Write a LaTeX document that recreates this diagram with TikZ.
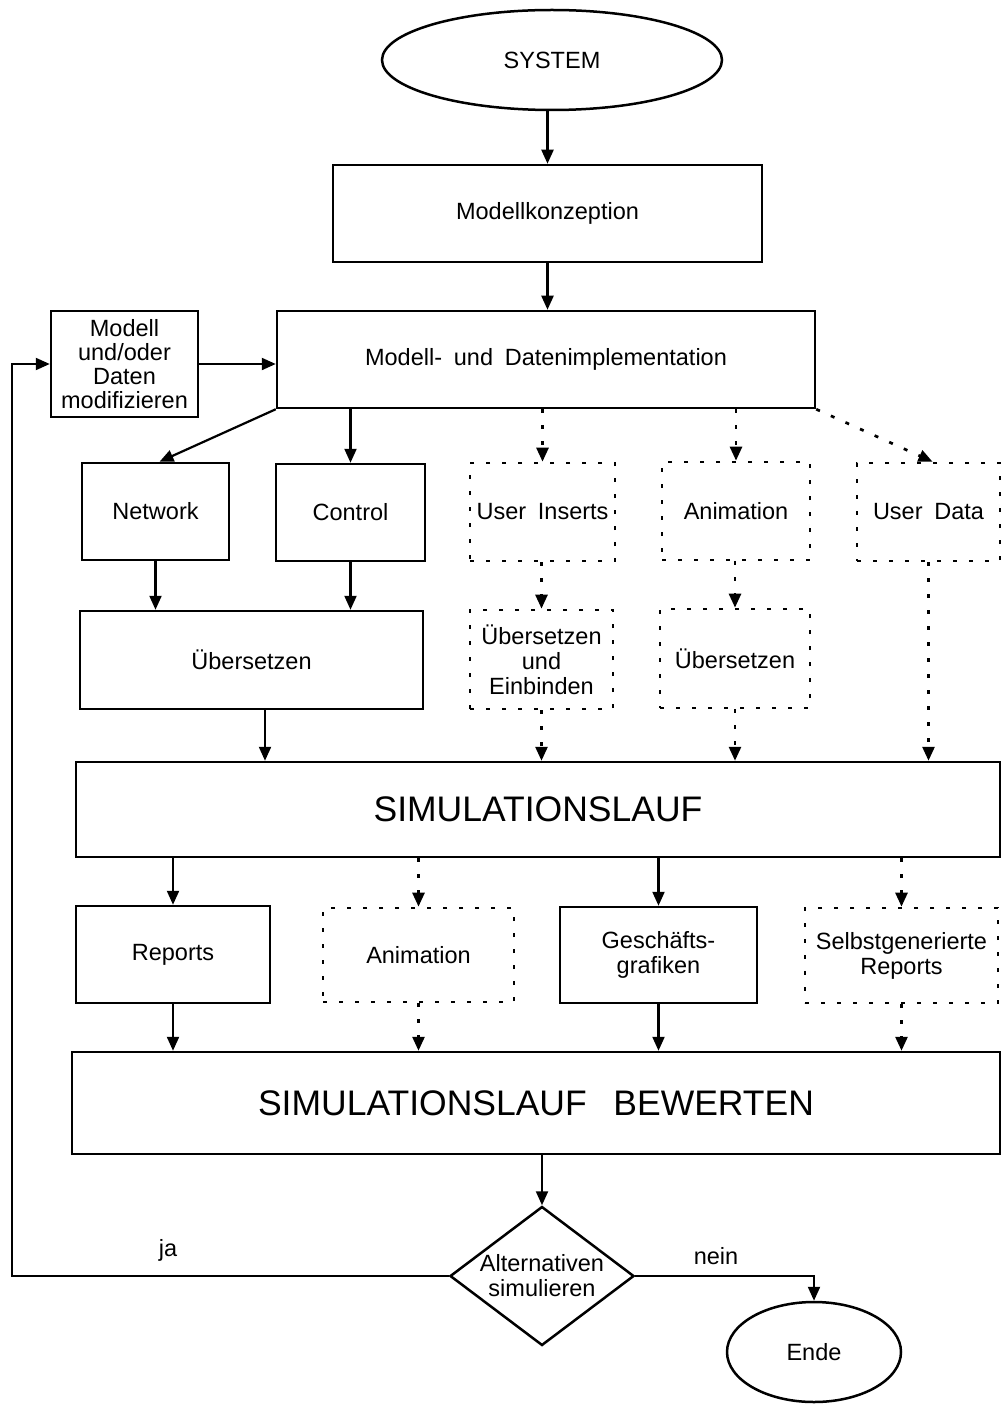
\documentclass[tikz,border=0pt]{standalone}
\usepackage{fontspec}
\setmainfont[WordSpace=1.8]{Liberation Sans}
\usetikzlibrary{shapes.geometric,arrows.meta}
\begin{document}
\begin{tikzpicture}[x=1pt,y=-1pt,
  every node/.style={font=\fontsize{23.5}{25}\selectfont, align=center, inner sep=0pt},
  big/.style={font=\fontsize{35.5}{40}\selectfont},
  box/.style={draw, line width=2.5pt},
  dbox/.style={draw, line width=2.7pt, dash pattern=on 4pt off 12pt},
  term/.style={draw, ellipse, line width=2.5pt},
  decision/.style={draw, diamond, line width=2.5pt, aspect=1.32,
                   minimum width=184pt, minimum height=139pt},
  arr/.style={line width=2.2pt, -{Triangle[length=14pt,width=12pt]}},
  darr/.style={line width=2.7pt, dash pattern=on 4pt off 12pt,
               -{Triangle[length=14pt,width=12pt]}}]
\useasboundingbox (0,0) rectangle (1002,1404);
\fill[white] (0,0) rectangle (1002,1404);

% start and model building
\node[term, minimum width=340pt, minimum height=100pt] (sys) at (552,60) {SYSTEM};
\node[box, minimum width=429pt, minimum height=97pt] (konz) at (547.5,213.5) {Modellkonzeption};
\node[box, minimum width=538pt, minimum height=97pt] (impl) at (546,359.5) {Modell- und Datenimplementation};
\node[box, minimum width=147pt, minimum height=106pt, font=\fontsize{23.5}{24}\selectfont] (modif) at (124.5,364)
  {Modell\\und/oder\\Daten\\modifizieren};

% model parts
\node[box, minimum width=147pt, minimum height=97pt] (net) at (155.5,511.5) {Network};
\node[box, minimum width=149pt, minimum height=97pt] (ctrl) at (350.5,512.5) {Control};
\node[dbox, minimum width=145pt, minimum height=98pt] (uins) at (542.5,512) {User Inserts};
\node[dbox, minimum width=148pt, minimum height=98pt] (anim1) at (736,511) {Animation};
\node[dbox, minimum width=143pt, minimum height=98pt] (udata) at (928.5,512) {User Data};

% translation
\node[box, minimum width=343pt, minimum height=98pt] (ueb) at (251.5,660) {Übersetzen};
\node[dbox, minimum width=143pt, minimum height=99pt] (uebein) at (541.5,659.5) {Übersetzen\\und\\Einbinden};
\node[dbox, minimum width=150pt, minimum height=99pt] (ueb2) at (735,658.5) {Übersetzen};

% run
\node[box, big, minimum width=924pt, minimum height=95pt] (sim) at (538,809.5) {SIMULATIONSLAUF};

% outputs
\node[box, minimum width=194pt, minimum height=97pt] (rep) at (173,954.5) {Reports};
\node[dbox, minimum width=191pt, minimum height=94pt] (anim2) at (418.5,955) {Animation};
\node[box, minimum width=197pt, minimum height=96pt] (gesch) at (658.5,955) {Geschäfts-\\grafiken};
\node[dbox, minimum width=193pt, minimum height=95pt] (selbst) at (901.5,955.5) {Selbstgenerierte\\Reports};

% evaluation and decision
\node[box, big, minimum width=928pt, minimum height=102pt] (bew) at (536,1103) {SIMULATIONSLAUF\hspace{0.25em} BEWERTEN};
\node[decision] (dia) at (542,1276) {Alternativen\\simulieren};
\node[term, minimum width=174pt, minimum height=100pt] (ende) at (814,1352) {Ende};
\node (ja) at (168,1250) {ja};
\node (nein) at (716,1256) {nein};

% connectors: top part
\draw[arr] (sys.south -| konz.north) -- (konz.north);
\draw[arr] (konz.south) -- (konz.south |- impl.north);
\draw[arr] (modif.east) -- (modif.east -| impl.west);
\draw[arr] (impl.south west) -- ([xshift=4pt]net.north);
\draw[arr] (impl.south -| ctrl.north) -- (ctrl.north);
\draw[darr] (impl.south -| uins.north) -- (uins.north);
\draw[darr] (impl.south -| anim1.north) -- (anim1.north);
\draw[darr] (impl.south east) -- ([xshift=4pt]udata.north);

% connectors: translation
\draw[arr] (net.south) -- (net.south |- ueb.north);
\draw[arr] (ctrl.south) -- (ctrl.south |- ueb.north);
\draw[darr] (uins.south -| uebein.north) -- (uebein.north);
\draw[darr] (anim1.south -| ueb2.north) -- (ueb2.north);

% connectors into the run
\coordinate (uebout) at ([xshift=13.5pt]ueb.south);
\draw[arr] (uebout) -- (uebout |- sim.north);
\draw[darr] (uebein.south) -- (uebein.south |- sim.north);
\draw[darr] (ueb2.south) -- (ueb2.south |- sim.north);
\draw[darr] (udata.south) -- (udata.south |- sim.north);

% connectors to and from the outputs
\draw[arr] (sim.south -| rep.north) -- (rep.north);
\draw[darr] (sim.south -| anim2.north) -- (anim2.north);
\draw[arr] (sim.south -| gesch.north) -- (gesch.north);
\draw[darr] (sim.south -| selbst.north) -- (selbst.north);
\draw[arr] (rep.south) -- (rep.south |- bew.north);
\draw[darr] (anim2.south) -- (anim2.south |- bew.north);
\draw[arr] (gesch.south) -- (gesch.south |- bew.north);
\draw[darr] (selbst.south) -- (selbst.south |- bew.north);

% decision and feedback loop
\draw[arr] (bew.south -| dia.north) -- (dia.north);
\coordinate (back) at (12,1276);
\draw[arr] (dia.west) -- (back) |- (modif.west);
\draw[arr] (dia.east) -| (ende.north);
\end{tikzpicture}
\end{document}
